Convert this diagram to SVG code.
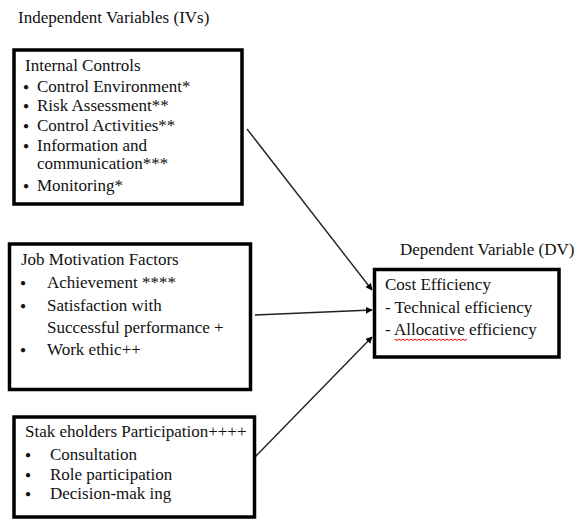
<svg xmlns="http://www.w3.org/2000/svg" width="580" height="522" viewBox="0 0 580 522" style="font-family:'Liberation Serif','Times New Roman',serif">
<style>
text{font-size:17px;fill:#111}
.b{font-size:10px}
.box{fill:#fff;stroke:#000;stroke-width:3.5}
.conn{stroke:#222;stroke-width:1.4;fill:none}
</style>
<defs>
<marker id="ah" viewBox="0 0 10 10" refX="9" refY="5" markerWidth="5" markerHeight="5" orient="auto" markerUnits="strokeWidth">
<path d="M0,0 L10,5 L0,10 z" fill="#000"/>
</marker>
</defs>
<rect width="580" height="522" fill="#fff"/>
<g id="headers" style="font-family:'Liberation Serif','Times New Roman',serif">
<text x="18" y="23">Independent Variables (IVs)</text>
<text x="400" y="255">Dependent Variable (DV)</text>
</g>

<g id="connectors">
<line class="conn" x1="247" y1="129" x2="372" y2="290" marker-end="url(#ah)"/>
<line class="conn" x1="255" y1="315" x2="372" y2="310" marker-end="url(#ah)"/>
<line class="conn" x1="255" y1="457" x2="372" y2="337" marker-end="url(#ah)"/>
</g>

<g id="internal-controls" style="font-family:'Liberation Serif','Times New Roman',serif">
<rect class="box" x="14" y="50" width="228" height="154"/>
<text x="25" y="71">Internal Controls</text>
<text class="b" x="23" y="90">●</text><text x="37" y="92">Control Environment*</text>
<text class="b" x="23" y="109">●</text><text x="37" y="111">Risk Assessment**</text>
<text class="b" x="23" y="129">●</text><text x="37" y="131">Control Activities**</text>
<text class="b" x="23" y="149">●</text><text x="37" y="151">Information and</text>
<text x="37" y="169">communication***</text>
<text class="b" x="23" y="189">●</text><text x="37" y="191">Monitoring*</text>
</g>

<g id="job-motivation" style="font-family:'Liberation Serif','Times New Roman',serif">
<rect class="box" x="9.5" y="244" width="241" height="145.5"/>
<text x="21" y="265">Job Motivation Factors</text>
<text class="b" x="20" y="286">●</text><text x="47" y="288">Achievement ****</text>
<text class="b" x="20" y="309">●</text><text x="47" y="311">Satisfaction with</text>
<text x="47" y="333">Successful performance +</text>
<text class="b" x="20" y="353">●</text><text x="47" y="355">Work ethic++</text>
</g>

<g id="stakeholders" style="font-family:'Liberation Serif','Times New Roman',serif">
<rect class="box" x="14" y="417" width="240.5" height="100"/>
<text x="25" y="437">Stak eholders Participation++++</text>
<text class="b" x="25" y="458">●</text><text x="50" y="460">Consultation</text>
<text class="b" x="25" y="478">●</text><text x="50" y="480">Role participation</text>
<text class="b" x="25" y="497">●</text><text x="50" y="499">Decision-mak ing</text>
</g>

<g id="cost-efficiency" style="font-family:'Liberation Serif','Times New Roman',serif">
<rect class="box" x="374.5" y="269.5" width="184.5" height="87.5"/>
<text x="385" y="290">Cost Efficiency</text>
<text x="385" y="313">- Technical efficiency</text>
<text x="385" y="335">- Allocative efficiency</text>
<path d="M395,339 l2,1.5 l2,-1.5 l2,1.5 l2,-1.5 l2,1.5 l2,-1.5 l2,1.5 l2,-1.5 l2,1.5 l2,-1.5 l2,1.5 l2,-1.5 l2,1.5 l2,-1.5 l2,1.5 l2,-1.5 l2,1.5 l2,-1.5 l2,1.5 l2,-1.5 l2,1.5 l2,-1.5 l2,1.5 l2,-1.5 l2,1.5 l2,-1.5 l2,1.5 l2,-1.5 l2,1.5 l2,-1.5 l2,1.5 l2,-1.5 l2,1.5 l2,-1.5 l2,1.5 l2,-1.5" fill="none" stroke="#e00" stroke-width="1"/>
</g>
</svg>
